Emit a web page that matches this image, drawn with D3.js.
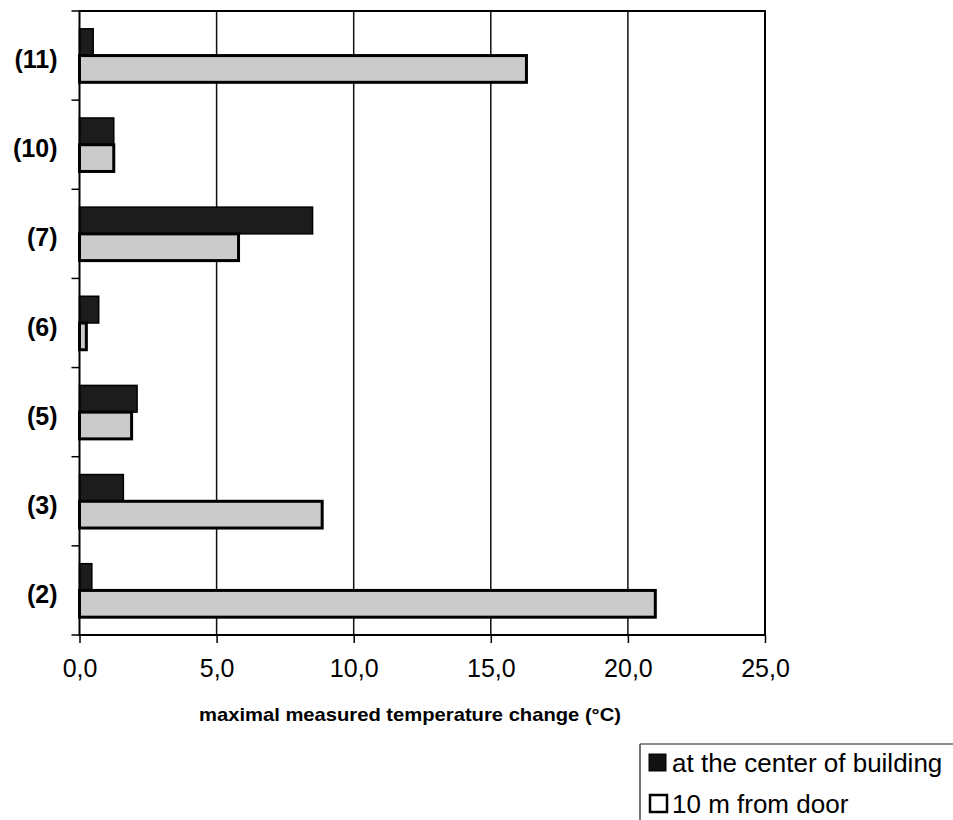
<!DOCTYPE html>
<html>
<head>
<meta charset="utf-8">
<script src="https://cdn.jsdelivr.net/npm/d3@7"></script>
<style>
  body { margin: 0; background: #fff; }
  svg { display: block; font-family: "Liberation Sans", Arial, sans-serif; }
</style>
</head>
<body>
<svg width="953" height="820"></svg>
<script>
// values (top category first)
const categories = ["(11)", "(10)", "(7)", "(6)", "(5)", "(3)", "(2)"];
const centerValues = [0.5, 1.25, 8.5, 0.7, 2.1, 1.6, 0.45];
const doorValues = [16.3, 1.25, 5.8, 0.25, 1.9, 8.85, 21.0];
const seriesNames = ["at the center of building", "10 m from door"];
const xTicks = [0, 5, 10, 15, 20, 25];

const rows = categories.map((c, i) => ({ cat: c, center: centerValues[i], door: doorValues[i] }));

const plotLeft = 79.5, plotRight = 765, plotTop = 11, plotBottom = 635;
const svg = d3.select("svg");

const x = d3.scaleLinear().domain([0, 25]).range([plotLeft, plotRight]);
const y0 = d3.scaleBand().domain(categories).range([plotTop, plotBottom])
    .paddingInner(0.4).paddingOuter(0.2);
const y1 = d3.scaleBand().domain(["center", "door"]).range([0, y0.bandwidth()]);
const fills = { center: "#1c1c1c", door: "#cbcbcb" };

const locale = d3.formatLocale({ decimal: ",", thousands: ".", grouping: [3], currency: ["", ""] });
const fmt = locale.format(".1f");

// gridlines
svg.append("g").selectAll("line")
    .data(xTicks.slice(1, -1))
    .join("line")
    .attr("x1", d => x(d)).attr("x2", d => x(d))
    .attr("y1", plotTop).attr("y2", plotBottom)
    .attr("stroke", "#111").attr("stroke-width", 1.5);

// bars
const groups = svg.append("g").selectAll("g")
    .data(rows)
    .join("g")
    .attr("transform", d => `translate(0,${y0(d.cat)})`);

groups.selectAll("rect")
    .data(d => ["center", "door"].map(k => ({ key: k, value: d[k] })))
    .join("rect")
    .attr("x", x(0))
    .attr("y", d => y1(d.key))
    .attr("width", d => x(d.value) - x(0))
    .attr("height", y1.bandwidth())
    .attr("fill", d => fills[d.key])
    .attr("stroke", "#000")
    .attr("stroke-width", d => d.key === "door" ? 3 : 1.5);

// frame
svg.append("rect")
    .attr("x", plotLeft).attr("y", plotTop)
    .attr("width", plotRight - plotLeft).attr("height", plotBottom - plotTop)
    .attr("fill", "none").attr("stroke", "#000").attr("stroke-width", 2);

// bottom axis
const xAxis = svg.append("g")
    .attr("transform", `translate(0,${plotBottom})`)
    .call(d3.axisBottom(x).tickValues(xTicks).tickFormat(fmt).tickSize(8).tickSizeOuter(0).tickPadding(16));
xAxis.select(".domain").remove();
xAxis.selectAll(".tick line").attr("stroke", "#000").attr("stroke-width", 1.5);
xAxis.selectAll("text").attr("font-size", 25).attr("fill", "#000")
    .attr("font-family", "'Liberation Sans', Arial, sans-serif");

// category boundary ticks on the left
const step = y0.step();
const bounds = d3.range(categories.length + 1).map(i => plotTop + i * step);
svg.append("g").selectAll("line")
    .data(bounds)
    .join("line")
    .attr("x1", plotLeft - 8).attr("x2", plotLeft)
    .attr("y1", d => d).attr("y2", d => d)
    .attr("stroke", "#000").attr("stroke-width", 1.5);

// category labels
const yAxis = svg.append("g")
    .attr("transform", `translate(${plotLeft},0)`)
    .call(d3.axisLeft(y0).tickSize(0).tickPadding(22));
yAxis.select(".domain").remove();
yAxis.selectAll("text")
    .attr("font-size", 25).attr("font-weight", "bold").attr("fill", "#000")
    .attr("dy", "0.5em")
    .attr("font-family", "'Liberation Sans', Arial, sans-serif");

// axis title
svg.append("text")
    .attr("x", 199).attr("y", 721)
    .attr("font-size", 19).attr("font-weight", "bold")
    .attr("textLength", 422).attr("lengthAdjust", "spacingAndGlyphs")
    .text("maximal measured temperature change (°C)");

// legend
const lg = svg.append("g");
lg.append("line").attr("x1", 640).attr("x2", 953).attr("y1", 744).attr("y2", 744)
    .attr("stroke", "#666").attr("stroke-width", 1.5);
lg.append("line").attr("x1", 640).attr("x2", 640).attr("y1", 744).attr("y2", 820)
    .attr("stroke", "#444").attr("stroke-width", 1.5);

const items = lg.selectAll("g.item")
    .data(seriesNames)
    .join("g")
    .attr("class", "item")
    .attr("transform", (d, i) => `translate(649,${i === 0 ? 754 : 795})`);
items.append("rect")
    .attr("width", 17).attr("height", 17)
    .attr("x", (d, i) => i === 0 ? 0 : 1)
    .attr("fill", (d, i) => i === 0 ? "#111" : "#fff")
    .attr("stroke", "#000").attr("stroke-width", (d, i) => i === 0 ? 1 : 2.5);
items.append("text")
    .attr("x", 23).attr("y", 18)
    .attr("font-size", 26)
    .text(d => d);
</script>
</body>
</html>
